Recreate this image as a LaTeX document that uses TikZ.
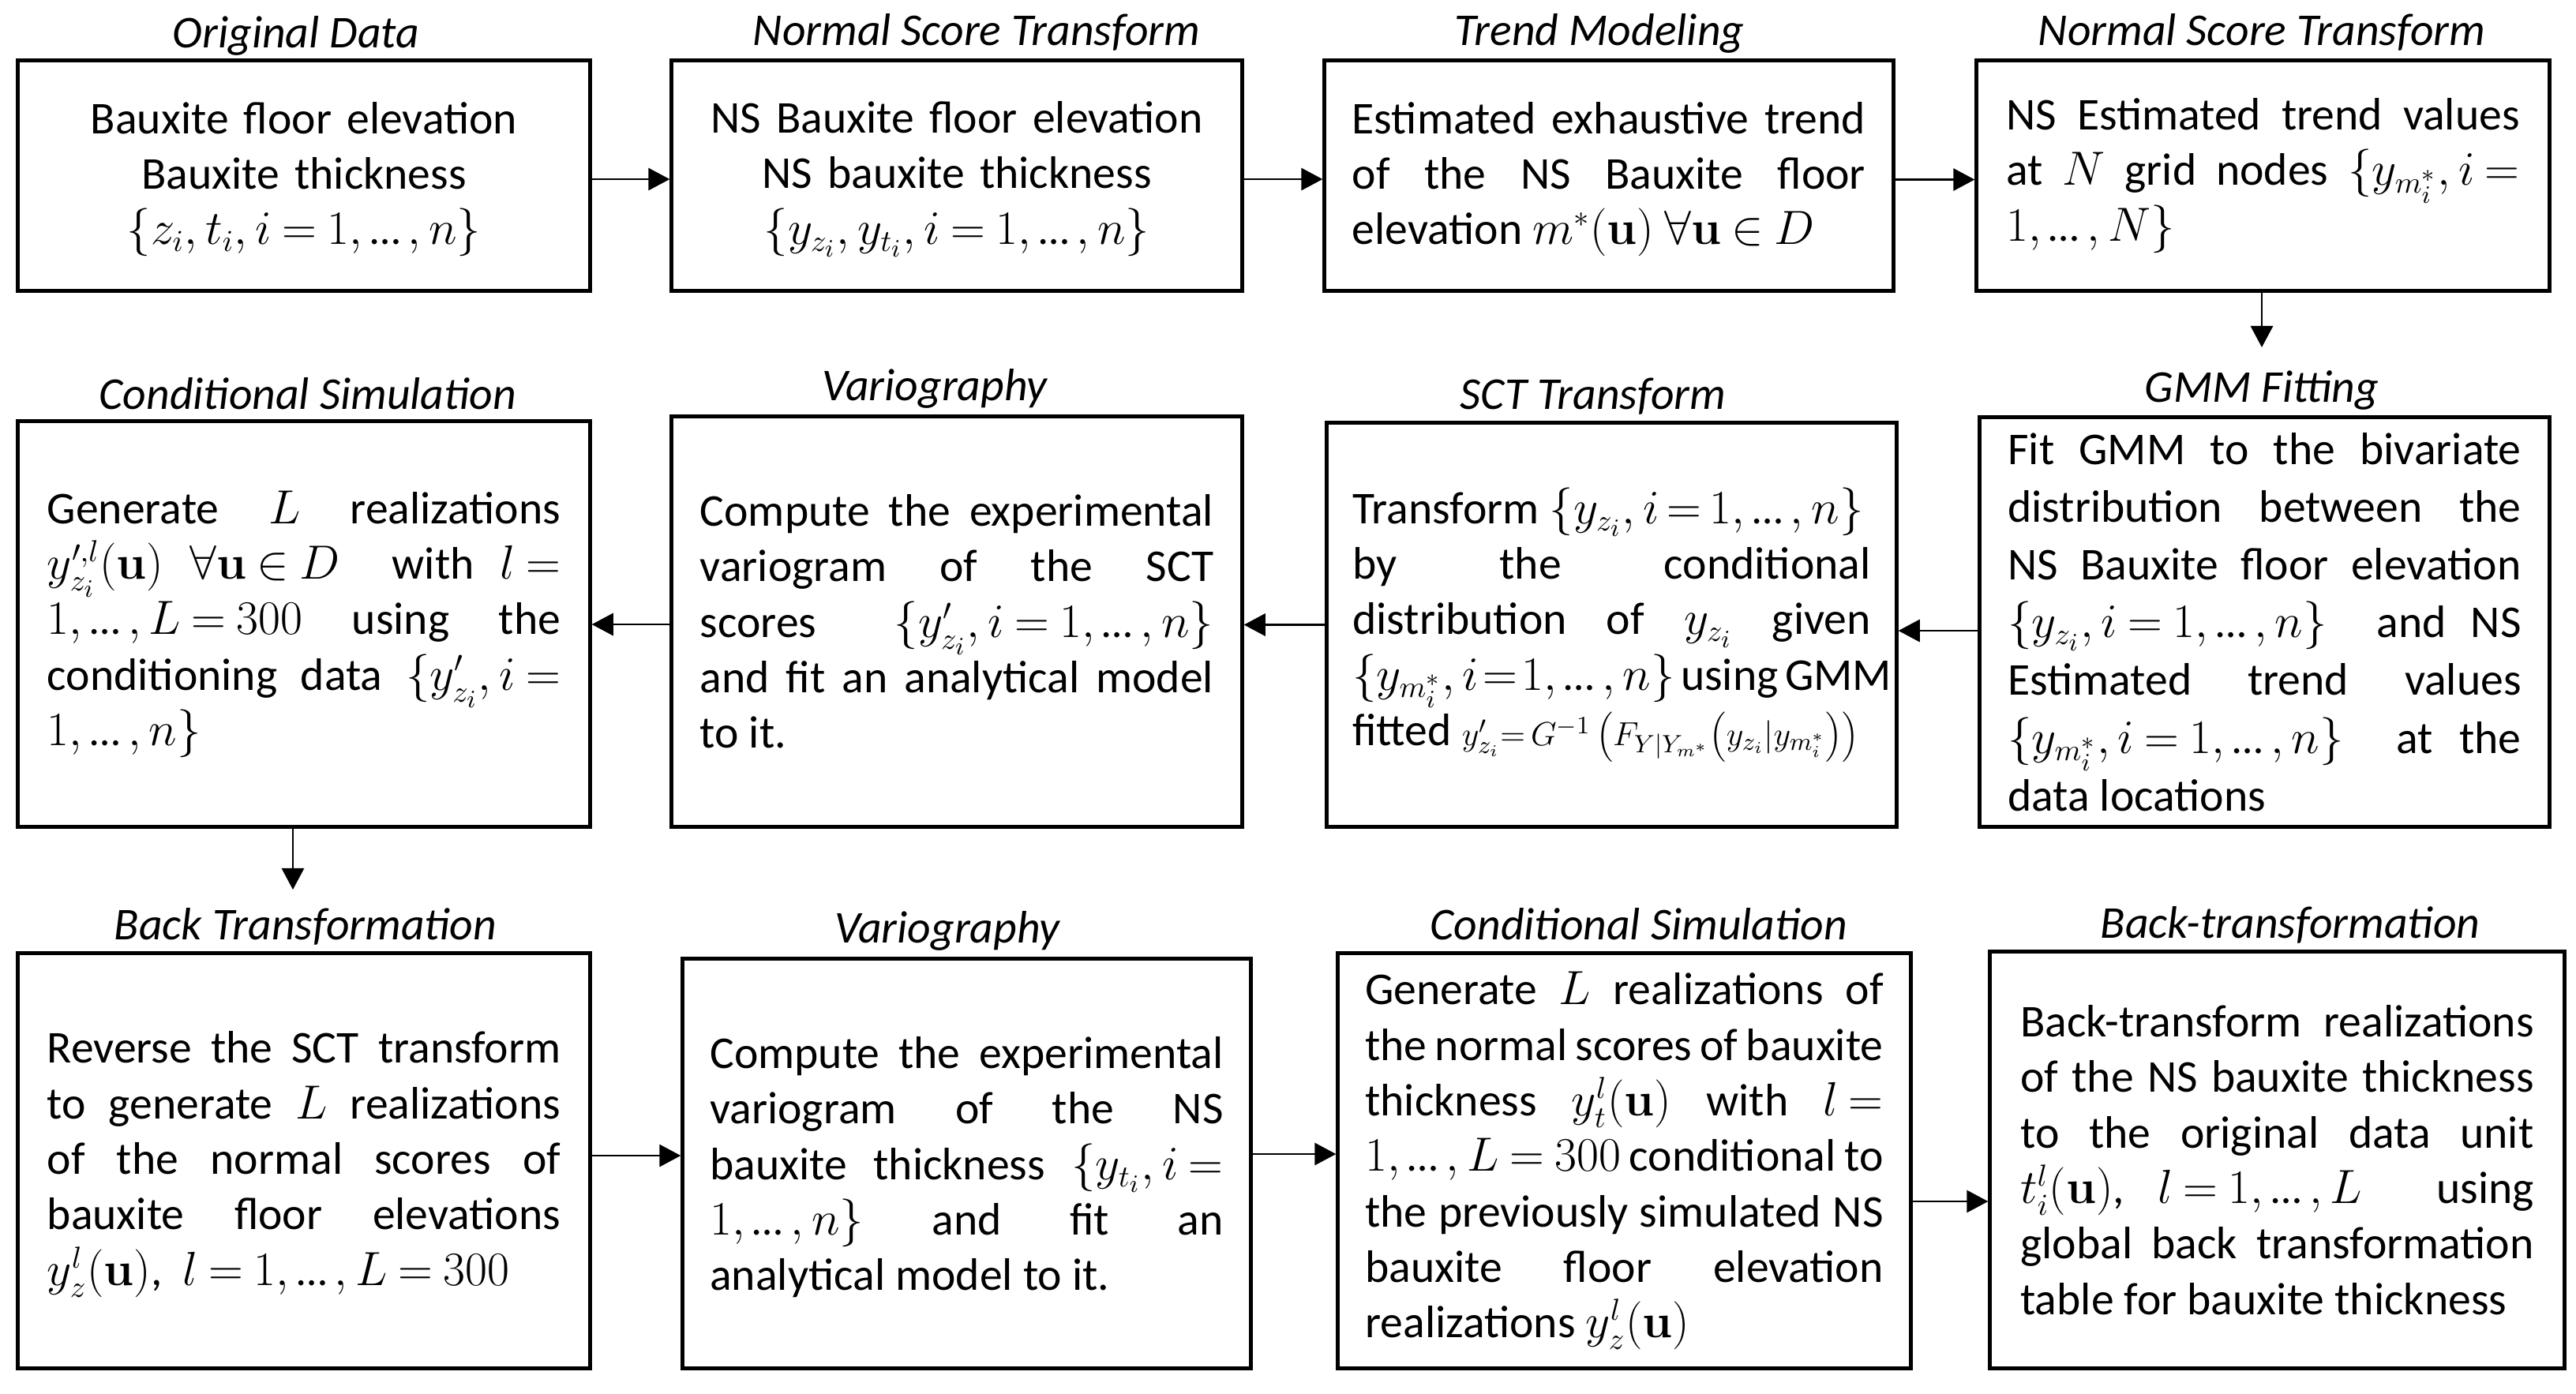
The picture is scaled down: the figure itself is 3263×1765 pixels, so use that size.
\documentclass[tikz,border=0pt]{standalone}
\usepackage{fontspec}
\setmainfont{Carlito}
\usetikzlibrary{arrows.meta,calc}
\tolerance=10000
\hyphenpenalty=10000
\exhyphenpenalty=10000
\lineskiplimit=-30pt
\DeclareMathSizes{16.4}{16}{11.4}{8.6}
\DeclareMathAlphabet{\mathbcm}{OT1}{cmr}{bx}{n}
\newcommand{\bodyfnt}{\fontsize{16.4}{20}\selectfont\thickmuskip=4mu\relax\medmuskip=3mu\relax}
\newcommand{\tightfnt}{\bodyfnt\thickmuskip=3mu\relax}
\newcommand{\widefnt}{\bodyfnt\fontsize{16.4}{20.8}\selectfont}
\newcommand{\titlefnt}{\fontsize{16.4}{20}\selectfont\itshape}
\newcommand{\bu}{\mathbcm{u}}
\newcommand{\eli}{\mathinner{\mbox{\fontsize{15.5}{18}\selectfont …}}}
\tikzset{
  box/.style={draw, line width=1.4pt, inner sep=0pt, text width=6.5cm, align=justify, font=\bodyfnt},
  cbox/.style={box, align=center},
  ttl/.style={anchor=base, font=\titlefnt, inner sep=0pt},
  arr/.style={line width=0.8pt, -{Triangle[length=7.7pt,width=8pt]}},
}
\begin{document}
\begin{tikzpicture}[x=0.01cm, y=-0.01cm]
\fill[white] (0,0) rectangle (3263,1765);
\useasboundingbox (0,0) rectangle (3263,1765);

% titles
\node[ttl] (tA) at (375,60) {Original Data};
\node[ttl] (tB) at (1237,57) {Normal Score Transform};
\node[ttl] (tC) at (2026,57) {Trend Modeling};
\node[ttl] (tD) at (2865,57) {Normal Score Transform};
\node[ttl] (tH) at (390,518) {Conditional Simulation};
\node[ttl] (tG) at (1184,507) {Variography};
\node[ttl] (tF) at (2018,518) {SCT Transform};
\node[ttl] (tE) at (2865,509) {GMM Fitting};
\node[ttl] (tI) at (387,1190) {Back Transformation};
\node[ttl] (tJ) at (1200,1194) {Variography};
\node[ttl] (tK) at (2076,1190) {Conditional Simulation};
\node[ttl] (tL) at (2901,1188) {Back-transformation};

% row 1
\node[cbox, minimum width=7.24cm, minimum height=2.91cm] (A) at (385,222.5)
 {\strut Bauxite floor elevation\\ Bauxite thickness\\ $\{z_i, t_i, i = 1, \eli, n\}$};
\node[cbox, minimum width=7.22cm, minimum height=2.91cm] (B) at (1212,222.5)
 {\strut NS Bauxite floor elevation\\ NS bauxite thickness\\ $\{y_{z_i}, y_{t_i}, i = 1, \eli, n\}$};
\node[box, minimum width=7.20cm, minimum height=2.91cm] (C) at (2038,222.5)
 {\strut Estimated exhaustive trend\linebreak of the NS Bauxite floor\linebreak elevation $m^*(\bu)\ \forall\bu \in D$};
\node[box, minimum width=7.25cm, minimum height=2.91cm] (D) at (2866.5,222.5)
 {NS Estimated trend values\linebreak at $N$ grid nodes $\{y_{m_i^*}, i =$\linebreak $1, \eli, N\}$};

% row 2
\node[box, minimum width=7.24cm, minimum height=5.13cm] (H) at (385,790.5)
 {Generate $L$ realizations\linebreak $y_{z_i}^{\prime,l}(\bu)\ \forall\bu \in D$ \ with $l =$\linebreak $1, \eli, L = 300$ using the\linebreak conditioning data $\{y'_{z_i}, i =$\linebreak $1, \eli, n\}$};
\node[box, minimum width=7.22cm, minimum height=5.19cm] (G) at (1212,787.5)
 {Compute the experimental\linebreak variogram of the SCT\linebreak scores $\{y'_{z_i}, i = 1, \eli, n\}$\linebreak and fit an analytical model\linebreak to it.};
\node[box, minimum width=7.21cm, minimum height=5.11cm, text width=6.56cm, font=\tightfnt] (F) at (2041.5,791.5)
 {Transform $\{y_{z_i}, i = 1, \eli, n\}$\\ by the conditional\linebreak distribution of $y_{z_i}$ given\linebreak \hbox to\linewidth{\thickmuskip=1.5mu\relax\medmuskip=2mu\relax$\{y_{m_i^*},i = 1,\eli,n\}$\hskip 2pt plus 1fil using GMM}\linebreak fitted {\fontsize{12.5}{14}\selectfont$y'_{z_i}\!= G^{-1}\left(F_{Y|Y_{m^*}}\!\left(y_{z_i}|y_{m_i^*}\right)\right)$}};
\node[box, minimum width=7.21cm, minimum height=5.18cm, font=\widefnt] (E) at (2868.5,788)
 {Fit GMM to the bivariate\linebreak distribution between the\linebreak NS Bauxite floor elevation\linebreak $\{y_{z_i}, i = 1, \eli, n\}$ \ and NS\linebreak Estimated trend values\linebreak $\{y_{m_i^*}, i = 1, \eli, n\}$ \ at the\linebreak data locations};

% row 3
\node[box, minimum width=7.24cm, minimum height=5.25cm] (I) at (385,1470.5)
 {\strut Reverse the SCT transform\linebreak to generate $L$ realizations\linebreak of the normal scores of\linebreak bauxite floor elevations\linebreak $y_z^l(\bu)$,\ \ $l = 1, \eli, L = 300$};
\node[box, minimum width=7.19cm, minimum height=5.18cm] (J) at (1224.5,1474)
 {\strut Compute the experimental\linebreak variogram of the NS\linebreak bauxite thickness $\{y_{t_i}, i =$\linebreak $1, \eli, n\}$ and fit an\linebreak analytical model to it.};
\node[box, minimum width=7.25cm, minimum height=5.25cm, text width=6.56cm] (K) at (2057.5,1470.5)
 {Generate $L$ realizations of\linebreak the normal scores of bauxite\linebreak thickness $y_t^l(\bu)$ with $l =$\linebreak $1, \eli, L = 300$ conditional to\linebreak the previously simulated NS\linebreak bauxite floor elevation\linebreak realizations $y_z^l(\bu)$};
\node[box, minimum width=7.27cm, minimum height=5.27cm] (L) at (2884.5,1469.5)
 {Back-transform realizations\linebreak of the NS bauxite thickness\linebreak to the original data unit\linebreak $t_i^l(\bu)$, $l = 1, \eli, L$ \quad using\linebreak global back transformation\linebreak table for bauxite thickness};

% connectors
\coordinate (ab) at ($(A.east)+(0,4.5)$);
\draw[arr] (ab) -- (ab -| B.west);
\coordinate (bc) at ($(B.east)+(0,4.5)$);
\draw[arr] (bc) -- (bc -| C.west);
\coordinate (cd) at ($(C.east)+(0,5)$);
\draw[arr] (cd) -- (cd -| D.west);
\coordinate (dend) at (2865,440);
\draw[arr] (D.south -| dend) -- (dend);
\coordinate (ef) at ($(E.west)+(0,11)$);
\draw[arr] (ef) -- (ef -| F.east);
\coordinate (fg) at ($(F.west)+(0,0)$);
\draw[arr] (fg) -- (fg -| G.east);
\coordinate (gh) at ($(G.west)+(0,3.5)$);
\draw[arr] (gh) -- (gh -| H.east);
\coordinate (hend) at (371,1127);
\draw[arr] (H.south -| hend) -- (hend);
\coordinate (ij) at ($(I.east)+(0,-6.5)$);
\draw[arr] (ij) -- (ij -| J.west);
\coordinate (jk) at ($(J.east)+(0,-12)$);
\draw[arr] (jk) -- (jk -| K.west);
\coordinate (kl) at ($(K.east)+(0,51.5)$);
\draw[arr] (kl) -- (kl -| L.west);
\end{tikzpicture}
\end{document}
